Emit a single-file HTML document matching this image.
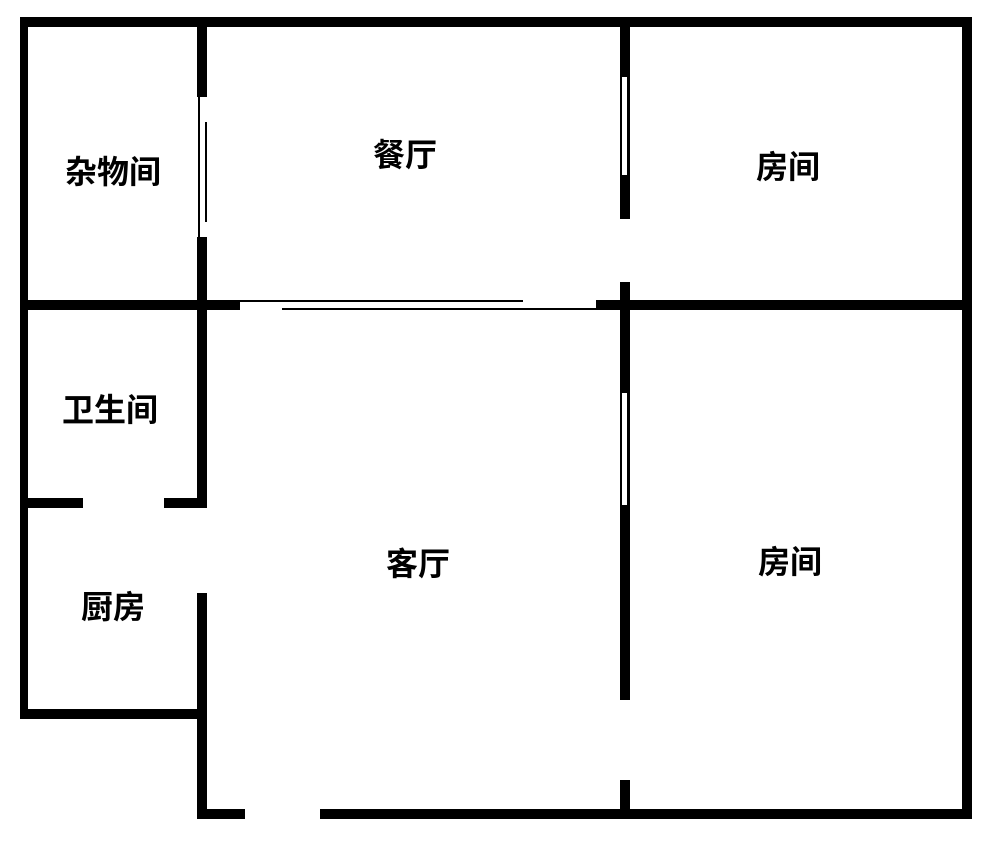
<!DOCTYPE html>
<html><head><meta charset="utf-8"><style>
body{margin:0;width:1000px;height:842px;background:#fff;position:relative;overflow:hidden}
.w{position:absolute;background:#000}
.t{position:absolute;background:#000}
.s{position:absolute;background:#fff}
.l{position:absolute;font-family:"Liberation Sans","Noto Sans CJK SC",sans-serif;font-size:32px;font-weight:bold;color:#000;transform:translate(-50%,-50%);white-space:nowrap}
</style></head><body>
<!-- outer -->
<div class="w" style="left:20px;top:17px;width:952px;height:10px"></div>
<div class="w" style="left:20px;top:17px;width:8px;height:702px"></div>
<div class="w" style="left:962px;top:17px;width:10px;height:802px"></div>
<div class="w" style="left:197px;top:809px;width:48px;height:10px"></div>
<div class="w" style="left:320px;top:809px;width:652px;height:10px"></div>
<div class="w" style="left:20px;top:709px;width:187px;height:10px"></div>
<!-- inner vertical left -->
<div class="w" style="left:197px;top:17px;width:10px;height:80px"></div>
<div class="w" style="left:197px;top:237px;width:10px;height:271px"></div>
<div class="w" style="left:197px;top:593px;width:10px;height:226px"></div>
<div class="t" style="left:198px;top:97px;width:2px;height:140px"></div>
<div class="t" style="left:205px;top:122px;width:2px;height:100px"></div>
<!-- middle horizontal -->
<div class="w" style="left:20px;top:300px;width:220px;height:10px"></div>
<div class="w" style="left:596px;top:300px;width:376px;height:10px"></div>
<div class="t" style="left:240px;top:300px;width:283px;height:2px"></div>
<div class="t" style="left:282px;top:308px;width:314px;height:2px"></div>
<!-- bathroom bottom -->
<div class="w" style="left:20px;top:498px;width:63px;height:10px"></div>
<div class="w" style="left:164px;top:498px;width:43px;height:10px"></div>
<!-- right inner vertical -->
<div class="w" style="left:620px;top:17px;width:10px;height:202px"></div>
<div class="s" style="left:622px;top:77px;width:5px;height:98px"></div>
<div class="w" style="left:620px;top:282px;width:10px;height:418px"></div>
<div class="s" style="left:622px;top:393px;width:5px;height:112px"></div>
<div class="w" style="left:620px;top:780px;width:10px;height:39px"></div>
<!-- labels -->
<div class="l" style="left:113px;top:170px">杂物间</div>
<div class="l" style="left:405px;top:153px">餐厅</div>
<div class="l" style="left:788px;top:165px">房间</div>
<div class="l" style="left:110px;top:408px">卫生间</div>
<div class="l" style="left:418px;top:562px">客厅</div>
<div class="l" style="left:790px;top:560px">房间</div>
<div class="l" style="left:113px;top:605px">厨房</div>
</body></html>
